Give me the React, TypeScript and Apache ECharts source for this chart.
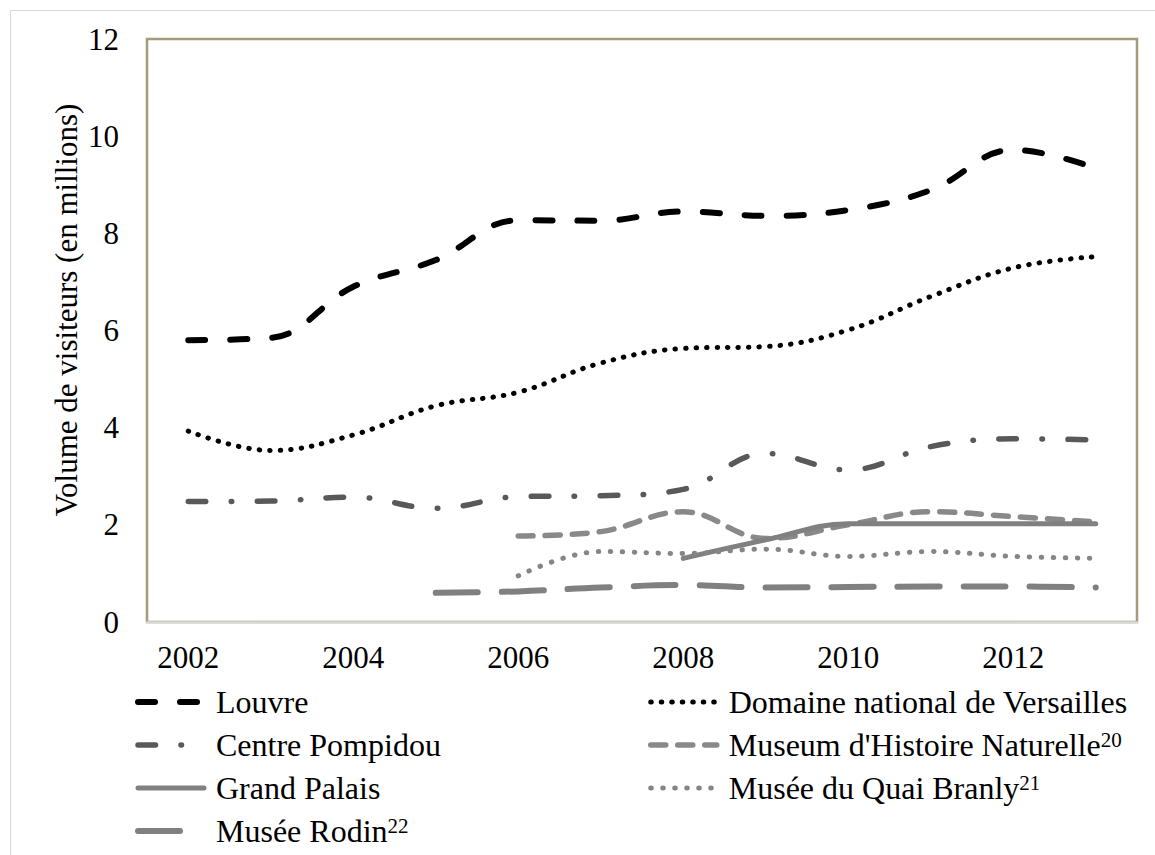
import React, { useEffect, useRef } from "react";
import * as echarts from "echarts";

const years = ["2002", "2003", "2004", "2005", "2006", "2007", "2008", "2009", "2010", "2011", "2012", "2013"];
const louvre = [5.8, 5.85, 6.9, 7.45, 8.27, 8.26, 8.45, 8.36, 8.48, 8.89, 9.72, 9.34];
const versailles = [3.93, 3.53, 3.85, 4.45, 4.73, 5.33, 5.63, 5.67, 6.01, 6.7, 7.29, 7.52];
const pompidou = [2.48, 2.49, 2.57, 2.34, 2.58, 2.6, 2.73, 3.47, 3.13, 3.61, 3.77, 3.75];
const museum = [null, null, null, null, 1.77, 1.86, 2.27, 1.72, 2.0, 2.27, 2.17, 2.06];
const grandPalais = [null, null, null, null, null, null, 1.31, 1.69, 2.02, 2.02, 2.02, 2.02];
const quaiBranly = [null, null, null, null, 0.95, 1.45, 1.41, 1.5, 1.35, 1.45, 1.35, 1.31];
const rodin = [null, null, null, 0.6, 0.63, 0.71, 0.76, 0.71, 0.72, 0.73, 0.73, 0.71];
const yTicks = { min: 0, max: 12, interval: 2 };
const yTitle = "Volume de visiteurs (en millions)";
const superscripts: Record<string, string> = {
  "Museum d'Histoire Naturelle": "20",
  "Musée du Quai Branly": "21",
  "Musée Rodin": "22",
};

const FONT = "Liberation Serif";

export default function App() {
  const ref = useRef<HTMLDivElement>(null);
  useEffect(() => {
    if (!ref.current) return;
    const chart = echarts.init(ref.current, undefined, { renderer: "svg" });
    const mk = (name: string, data: any[], color: string, width: number, dash: any) => ({
      name,
      type: "line",
      data,
      smooth: 0.4,
      symbol: "none",
      connectNulls: false,
      lineStyle: { color, width, type: dash, cap: "round", join: "round" },
      itemStyle: { color },
    });
    const legendCommon = {
      orient: "vertical",
      top: 686,
      height: 170,
      padding: 0,
      itemGap: 11,
      itemWidth: 66,
      itemHeight: 14,
      selectedMode: false,
      itemStyle: { opacity: 0, borderWidth: 0 },
      lineStyle: { width: "inherit" },
      formatter: (n: string) => (superscripts[n] ? `${n}{sup|${superscripts[n]}}` : n),
      textStyle: {
        fontFamily: FONT,
        fontSize: 32,
        color: "#000",
        padding: [0, 0, 0, 7],
        rich: { sup: { fontFamily: FONT, fontSize: 21, color: "#000", verticalAlign: "top", padding: [0, 0, 8, 0] } },
      },
    };
    chart.setOption({
      animation: false,
      backgroundColor: "#fff",
      textStyle: { fontFamily: FONT },
      graphic: [
        {
          type: "rect",
          silent: true,
          shape: { x: 10.5, y: 10.5, width: 1300, height: 1000 },
          style: { fill: "none", stroke: "#d9d9d9", lineWidth: 1 },
        },
        {
          type: "text",
          silent: true,
          x: 66,
          y: 310,
          rotation: Math.PI / 2,
          style: {
            text: yTitle,
            fontFamily: FONT,
            fontSize: 31,
            fill: "#000",
            align: "center",
            verticalAlign: "middle",
          },
        },
      ],
      grid: {
        left: 147,
        right: 18,
        top: 39,
        bottom: 233,
        show: true,
        borderColor: "#a29d76",
        borderWidth: 2.5,
        backgroundColor: "transparent",
      },
      xAxis: {
        type: "category",
        data: years,
        boundaryGap: true,
        axisLine: { show: true, lineStyle: { color: "#d9d9d9", width: 2.5 } },
        axisTick: { show: false },
        axisLabel: { interval: 1, margin: 20, color: "#000", fontSize: 31, fontFamily: FONT },
        splitLine: { show: false },
      },
      yAxis: {
        type: "value",
        min: yTicks.min,
        max: yTicks.max,
        interval: yTicks.interval,
        axisLine: { show: false },
        axisTick: { show: false },
        splitLine: { show: false },
        axisLabel: { margin: 28, color: "#000", fontSize: 31, fontFamily: FONT },
      },
      legend: [
        { ...legendCommon, left: 135, data: ["Louvre", "Centre Pompidou", "Grand Palais", "Musée Rodin"] },
        { ...legendCommon, left: 648, data: ["Domaine national de Versailles", "Museum d'Histoire Naturelle", "Musée du Quai Branly"] },
      ],
      series: [
        mk("Louvre", louvre, "#000000", 6, [17, 25]),
        mk("Domaine national de Versailles", versailles, "#000000", 5, [0.5, 10]),
        mk("Centre Pompidou", pompidou, "#595959", 5.5, [17.5, 25.5, 0.5, 25.5]),
        mk("Museum d'Histoire Naturelle", museum, "#898989", 5.5, [15, 12]),
        mk("Grand Palais", grandPalais, "#808080", 5, "solid"),
        mk("Musée du Quai Branly", quaiBranly, "#858585", 5, [0.5, 11.5]),
        mk("Musée Rodin", rodin, "#808080", 6, [42, 24]),
      ],
    });
    return () => chart.dispose();
  }, []);
  return (
    <div
      ref={ref}
      style={{ position: "fixed", left: 0, top: 0, width: 1155, height: 855 }}
    />
  );
}
